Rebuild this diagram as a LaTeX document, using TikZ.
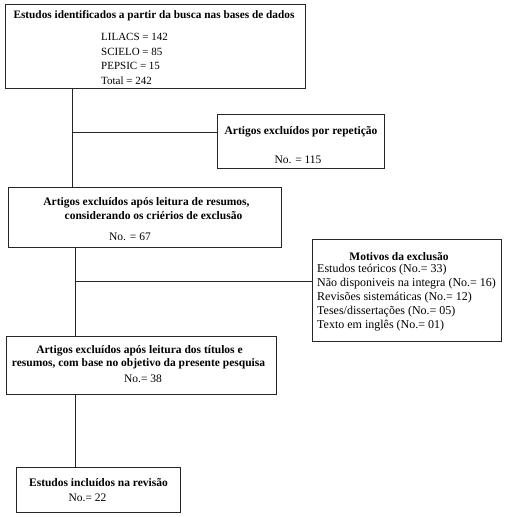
\documentclass[tikz,border=0pt]{standalone}
\usepackage{fontspec}
\setmainfont{Liberation Serif}
\begin{document}
\begin{tikzpicture}[x=1pt,y=-1pt,
  box/.style={draw=black!85, line width=0.8pt, inner sep=0pt},
  conn/.style={draw=black!85, line width=0.8pt},
  ttl/.style={inner sep=0pt, anchor=mid, font=\fontsize{11.5}{13.5}\selectfont\bfseries},
  ttlw/.style={inner sep=0pt, anchor=mid west, font=\fontsize{11.5}{13.5}\selectfont\bfseries},
  reg/.style={inner sep=0pt, anchor=mid, font=\fontsize{11.5}{13.5}\selectfont},
  regw/.style={inner sep=0pt, anchor=mid west, font=\fontsize{11.5}{13.5}\selectfont},
  regb/.style={inner sep=0pt, anchor=mid west, font=\fontsize{12}{14}\selectfont}]
\useasboundingbox (0,0) rectangle (506,517);
% boxes
\node[box, minimum width=300pt, minimum height=84pt] (b1) at (155,46) {};
\node[box, minimum width=167pt, minimum height=54pt] (b2) at (300.5,141) {};
\node[box, minimum width=273pt, minimum height=60pt] (b3) at (144.5,217) {};
\node[box, minimum width=189pt, minimum height=102pt] (b4) at (406.5,290) {};
\node[box, minimum width=270pt, minimum height=58pt] (b5) at (141,365) {};
\node[box, minimum width=164pt, minimum height=45pt] (b6) at (98,489.5) {};
% junctions
\coordinate (c1) at (72,0);
\coordinate (c2) at (75,0);
\coordinate (j2) at (0,132);
\coordinate (j4) at (0,281);
\draw[conn] (b1.south -| c1) -- (b3.north -| c1);
\draw[conn] (c1 |- j2) -- (b2.west |- j2);
\draw[conn] (b3.south -| c2) -- (b5.north -| c2);
\draw[conn] (c2 |- j4) -- (b4.west |- j4);
\draw[conn] (b5.south -| c2) -- (b6.north -| c2);
% texts box 1
\node[ttl, font=\fontsize{11.3}{13.5}\selectfont\bfseries] (t1) at (154,16) {Estudos identificados a partir da busca nas bases de dados};
\node[regw, font=\fontsize{11}{13}\selectfont] (t1a) at (101,38) {LILACS = 142};
\node[regw, font=\fontsize{11}{13}\selectfont] (t1b) at (101,53) {SCIELO = 85};
\node[regw, font=\fontsize{11}{13}\selectfont] (t1c) at (101,67) {PEPSIC = 15};
\node[regw, font=\fontsize{11}{13}\selectfont] (t1d) at (101,82) {Total = 242};
% box 2
\node[ttl] (t2) at (301,132) {Artigos excluídos por repetição};
\node[reg] (t2a) at (298,161) {No. = 115};
% box 3
\node[ttl] (t3) at (146.5,203) {Artigos excluídos após leitura de resumos,};
\node[ttl] (t3b) at (153.5,217) {considerando os criérios de exclusão};
\node[reg] (t3a) at (130,238) {No. = 67};
% box 4
\node[ttl] (t4) at (399,258) {Motivos da exclusão};
\node[regb] (t4a) at (317,270) {Estudos teóricos (No.= 33)};
\node[regb] (t4b) at (317,284) {Não disponiveis na integra (No.= 16)};
\node[regb] (t4c) at (317,298) {Revisões sistemáticas (No.= 12)};
\node[regb] (t4d) at (317,312) {Teses/dissertações (No.= 05)};
\node[regb] (t4e) at (317,326) {Texto em inglês (No.= 01)};
% box 5
\node[ttl] (t5) at (139.5,351) {Artigos excluídos após leitura dos títulos e};
\node[ttl] (t5b) at (138.5,364) {resumos, com base no objetivo da presente pesquisa};
\node[reg] (t5a) at (143,380) {No.= 38};
% box 6
\node[ttl] (t6) at (98.5,484) {Estudos incluídos na revisão};
\node[reg] (t6a) at (87.5,499) {No.= 22};
\end{tikzpicture}
\end{document}
